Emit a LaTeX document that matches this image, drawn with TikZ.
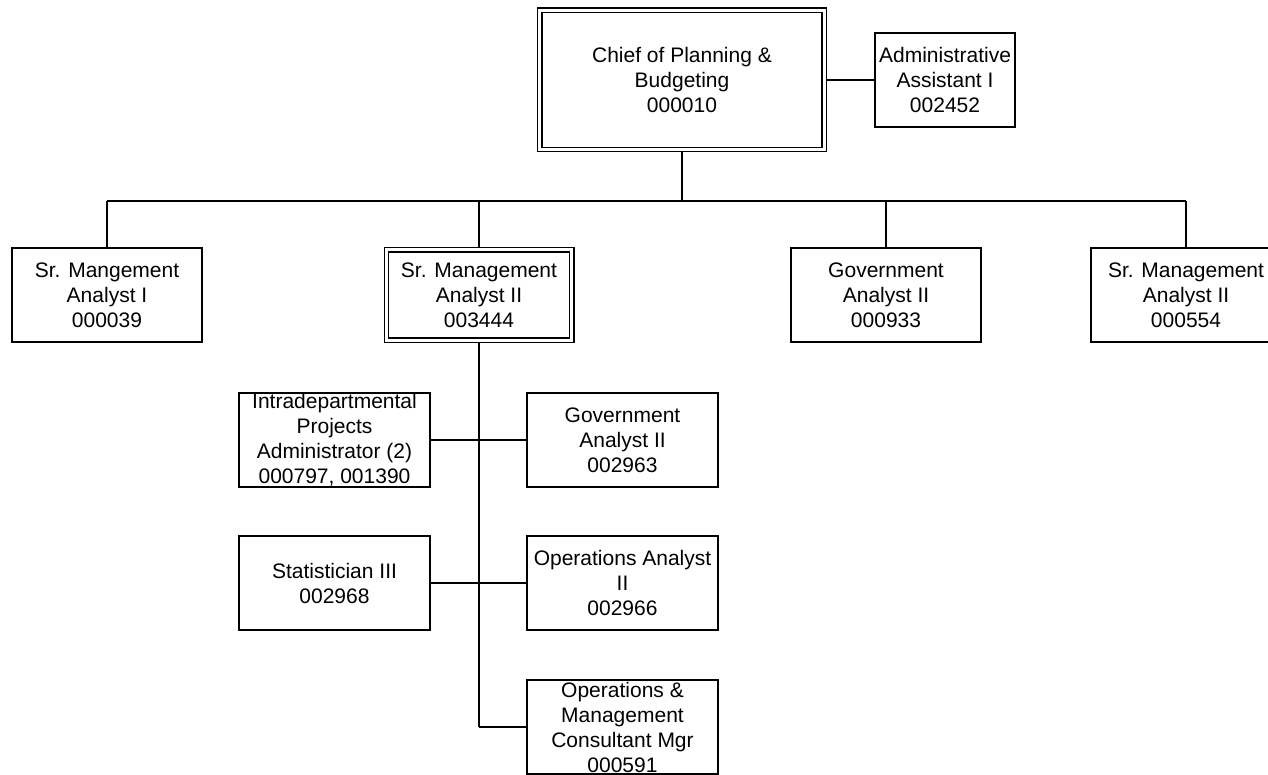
\documentclass[tikz,border=0pt]{standalone}
\usepackage{fontspec}
\setmainfont{Liberation Sans}
\usetikzlibrary{backgrounds}
\begin{document}
\begin{tikzpicture}[x=1pt,y=-1pt,
  box/.style={draw, line width=1.6pt, inner sep=0pt, align=center,
    font=\fontsize{21}{25}\selectfont, anchor=center},
  rowbox/.style={box, minimum width=189.5pt, minimum height=94.5pt},
  subbox/.style={box, minimum width=191.5pt, minimum height=94pt},
  dbox/.style={box, double, double distance=3pt, line width=1.3pt},
  link/.style={line width=1.6pt}]
\useasboundingbox (0,0) rectangle (1268,775);
\clip (0,0) rectangle (1268,775);

% head of the section and its assistant
\node[dbox, minimum width=284.4pt, minimum height=139.4pt] (chief) at (682,80)
  {Chief of Planning \&\\Budgeting\\000010};
\node[box, minimum width=140.5pt, minimum height=94.5pt] (admin) at (945,80)
  {Administrative\\Assistant I\\002452};

% first level
\node[rowbox] (sma1) at (107,295) {Sr. Mangement\\Analyst I\\000039};
\node[dbox, minimum width=185.4pt, minimum height=90.4pt] (sma2) at (479,295)
  {Sr. Management\\Analyst II\\003444};
\node[rowbox] (gov1) at (886,295) {Government\\Analyst II\\000933};
\node[rowbox] (sma3) at (1186,295) {Sr. Management\\Analyst II\\000554};

% staff under the senior analyst
\node[subbox] (intra) at (334.5,440)
  {Intradepartmental\\Projects\\Administrator (2)\\000797, 001390};
\node[subbox] (gov2) at (622.5,440) {Government\\Analyst II\\002963};
\node[subbox] (stat) at (334.5,583) {Statistician III\\002968};
\node[subbox] (ops) at (622.5,583) {Operations Analyst\\II\\002966};
\node[subbox] (omc) at (622.5,727)
  {Operations \&\\Management\\Consultant Mgr\\000591};

\coordinate (busL) at (107,201);
\coordinate (busR) at (1186,201);
\coordinate (trunkEnd) at (479,727);

\begin{scope}[on background layer]
  \draw[link] (chief.east) -- (admin.west);
  \draw[link] (chief.south) -- (chief.south |- busL);
  \draw[link] (busL) -- (busR);
  \draw[link] (busL) -- (sma1.north);
  \draw[link] (sma2.north |- busL) -- (sma2.north);
  \draw[link] (gov1.north |- busL) -- (gov1.north);
  \draw[link] (busR) -- (sma3.north);
  \draw[link] (sma2.south) -- (trunkEnd);
  \draw[link] (intra.east) -- (gov2.west);
  \draw[link] (stat.east) -- (ops.west);
  \draw[link] (trunkEnd) -- (omc.west);
\end{scope}
\end{tikzpicture}
\end{document}
